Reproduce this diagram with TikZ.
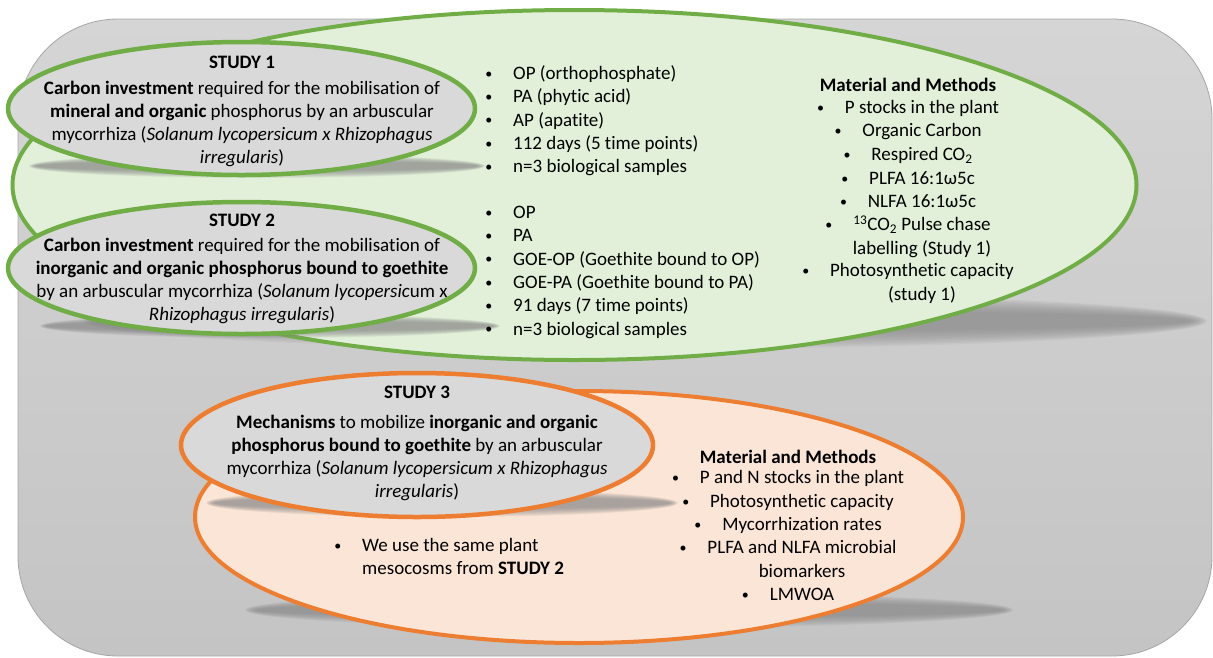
\documentclass[tikz,border=0pt]{standalone}
\usepackage{fontspec}
\setmainfont[Ligatures=NoCommon]{Carlito}
\usetikzlibrary{positioning,calc}

\definecolor{studygreen}{HTML}{70AD47}
\definecolor{studygreenfill}{HTML}{E2F0D9}
\definecolor{studyorange}{HTML}{ED7D31}
\definecolor{studyorangefill}{HTML}{FBE5D6}
\definecolor{ellgray}{HTML}{D9D9D9}
\definecolor{paneltop}{HTML}{D5D5D5}
\definecolor{panelbot}{HTML}{C4C4C4}
\definecolor{panelline}{HTML}{A6A6A6}

\newcommand\dotmark{{\fontsize{14}{14}\selectfont\textbullet}}

\tikzset{
  txt/.style={inner sep=0pt, font=\fontsize{19}{23.3}\selectfont},
  title/.style={txt, font=\fontsize{19}{23.3}\selectfont\bfseries},
  blurb/.style={txt, align=center},
  item/.style={txt, anchor=west, text height=13pt, text depth=4pt},
  mmitem/.style={txt, text height=13pt, text depth=4pt},
  bul/.style={label={[txt, label distance=20.5pt]left:\dotmark}},
  greenring/.style={fill=studygreenfill, draw=studygreen, line width=4pt},
  orangering/.style={fill=studyorangefill, draw=studyorange, line width=4pt},
  greenstudy/.style={fill=ellgray, draw=studygreen, line width=4.5pt},
  orangestudy/.style={fill=ellgray, draw=studyorange, line width=4.5pt},
}

% soft perspective shadow: cx, cy, rx, ry
\newcommand\ellshadow[4]{%
  \foreach \d in {0,0.06,...,0.6}
    \fill[black!46, opacity=0.105] (#1,#2) ellipse ({#3-\d*#4} and {#4-\d*#4});
}

\begin{document}
\begin{tikzpicture}[x=1pt, y=-1pt]
  \useasboundingbox (0,0) rectangle (1213,657);
  % background panel
  \shadedraw[top color=paneltop, bottom color=panelbot, draw=panelline, line width=0.8pt, rounded corners=100pt] (18,19) rectangle (1212,656);

  % studies 1 and 2
  \ellshadow{645}{321}{562}{28}
  \filldraw[greenring] (574.5,185) ellipse (562 and 175);
  \ellshadow{257}{166}{228}{12}
  \filldraw[greenstudy] (241.5,108.5) ellipse (233.5 and 66.5);
  \ellshadow{270}{326}{230}{12}
  \filldraw[greenstudy] (241.5,268) ellipse (233.5 and 66);

  % study 3
  \ellshadow{629}{610}{384}{18}
  \filldraw[orangering] (579,517) ellipse (384 and 126);
  \ellshadow{442}{503}{236}{14}
  \filldraw[orangestudy] (417,445) ellipse (236 and 72);

  % study texts
  \node[title] (s1title) at (242,62) {STUDY 1};
  \node[blurb] (s1text) at (242,124) {\textbf{Carbon investment} required for the mobilisation of\\
    \textbf{mineral and organic} phosphorus by an arbuscular\\
    mycorrhiza (\textit{Solanum lycopersicum x Rhizophagus}\\
    \textit{irregularis})};
  \node[title] (s2title) at (242,220) {STUDY 2};
  \node[blurb] (s2text) at (242,281) {\textbf{Carbon investment} required for the mobilisation of\\
    \textbf{inorganic and organic phosphorus bound to goethite}\\
    by an arbuscular mycorrhiza (\textit{Solanum lycopersic}um x\\
    \textit{Rhizophagus irregularis})};
  \node[title] (s3title) at (417,392) {STUDY 3};
  \node[blurb] (s3text) at (417,458) {\textbf{Mechanisms} to mobilize \textbf{inorganic and organic}\\
    \textbf{phosphorus bound to goethite} by an arbuscular\\
    mycorrhiza (\textit{Solanum lycopersicum x Rhizophagus}\\
    \textit{irregularis})};

  % treatments
  \foreach \t [count=\i] in {OP (orthophosphate), PA (phytic acid), AP (apatite),
      112 days (5 time points), n=3 biological samples}
    \node[item, bul] (lstA\i) at (513, {75+23.3*(\i-1)}) {\t};
  \foreach \t [count=\i] in {OP, PA, GOE-OP (Goethite bound to OP), GOE-PA (Goethite bound to PA),
      91 days (7 time points), n=3 biological samples}
    \node[item, bul] (lstB\i) at (513, {214+23.3*(\i-1)}) {\t};

  % material and methods, studies 1-2
  \node[title] (mmA) at (908,85) {Material and Methods};
  \node[mmitem, bul] (mmA1) at (922,109) {P stocks in the plant};
  \node[mmitem, bul] (mmA2) at (922,132) {Organic Carbon};
  \node[mmitem, bul] (mmA3) at (922,156) {Respired CO\textsubscript{2}};
  \node[mmitem, bul] (mmA4) at (922,180) {PLFA 16:1ω5c};
  \node[mmitem, bul] (mmA5) at (922,203) {NLFA 16:1ω5c};
  \node[mmitem, bul] (mmA6) at (922,226) {\textsuperscript{13}CO\textsubscript{2} Pulse chase};
  \node[mmitem] (mmA6b) at (922,250) {labelling (Study 1)};
  \node[mmitem, bul] (mmA7) at (922,272) {Photosynthetic capacity};
  \node[mmitem] (mmA7b) at (922,296) {(study 1)};

  % material and methods, study 3
  \node[title] (mmB) at (788,457) {Material and Methods};
  \node[mmitem, bul] (mmB1) at (802,479) {P and N stocks in the plant};
  \node[mmitem, bul] (mmB2) at (802,503) {Photosynthetic capacity};
  \node[mmitem, bul] (mmB3) at (802,526) {Mycorrhization rates};
  \node[mmitem, bul] (mmB4) at (802,549) {PLFA and NLFA microbial};
  \node[mmitem] (mmB4b) at (802,573) {biomarkers};
  \node[mmitem, bul] (mmB5) at (802,596) {LMWOA};

  \node[item, bul] (s3note) at (362,547) {We use the same plant};
  \node[item] (s3noteb) at (362,570) {mesocosms from \textbf{STUDY 2}};
\end{tikzpicture}
\end{document}
